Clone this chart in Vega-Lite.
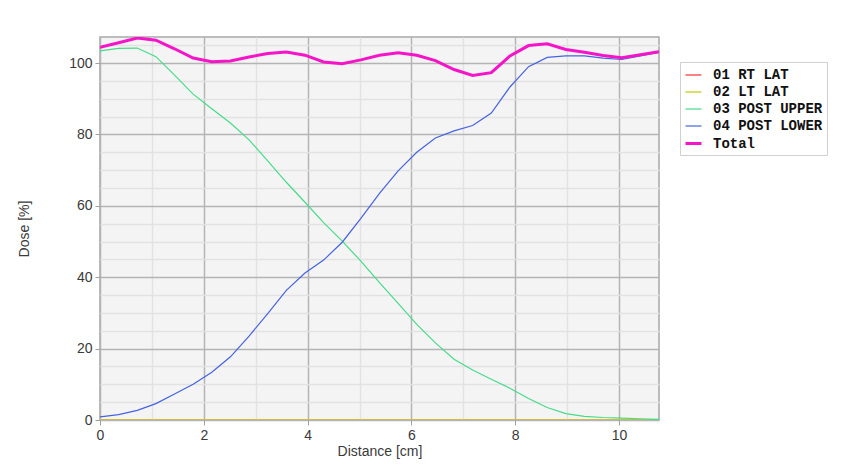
{
  "$schema": "https://vega.github.io/schema/vega-lite/v6.json",
  "width": 559,
  "height": 383,
  "autosize": {"type": "none"},
  "padding": {"left": 100, "top": 37, "right": 204, "bottom": 50},
  "background": "white",
  "config": {
    "view": {"fill": "#f4f4f4", "stroke": "#a8a8a8", "strokeWidth": 1.5},
    "font": "Liberation Sans"
  },
  "datasets": {
    "curves": [
      {"s": "01 RT LAT", "d": 0, "v": 0},
      {"s": "01 RT LAT", "d": 10.77, "v": 0},
      {"s": "02 LT LAT", "d": 0, "v": 0},
      {"s": "02 LT LAT", "d": 10.77, "v": 0},
      {"s": "03 POST UPPER", "d": 0, "v": 103.4},
      {"s": "03 POST UPPER", "d": 0.359, "v": 104.1},
      {"s": "03 POST UPPER", "d": 0.718, "v": 104.2},
      {"s": "03 POST UPPER", "d": 1.077, "v": 101.8},
      {"s": "03 POST UPPER", "d": 1.436, "v": 96.6},
      {"s": "03 POST UPPER", "d": 1.795, "v": 91.3},
      {"s": "03 POST UPPER", "d": 2.154, "v": 87.2},
      {"s": "03 POST UPPER", "d": 2.513, "v": 83.2},
      {"s": "03 POST UPPER", "d": 2.872, "v": 78.5},
      {"s": "03 POST UPPER", "d": 3.231, "v": 72.6},
      {"s": "03 POST UPPER", "d": 3.59, "v": 66.6},
      {"s": "03 POST UPPER", "d": 3.949, "v": 61.0},
      {"s": "03 POST UPPER", "d": 4.308, "v": 55.3},
      {"s": "03 POST UPPER", "d": 4.667, "v": 50.1},
      {"s": "03 POST UPPER", "d": 5.026, "v": 44.5},
      {"s": "03 POST UPPER", "d": 5.385, "v": 38.5},
      {"s": "03 POST UPPER", "d": 5.744, "v": 32.7},
      {"s": "03 POST UPPER", "d": 6.103, "v": 26.8},
      {"s": "03 POST UPPER", "d": 6.462, "v": 21.6},
      {"s": "03 POST UPPER", "d": 6.821, "v": 17.0},
      {"s": "03 POST UPPER", "d": 7.18, "v": 14.0},
      {"s": "03 POST UPPER", "d": 7.539, "v": 11.4},
      {"s": "03 POST UPPER", "d": 7.898, "v": 8.9},
      {"s": "03 POST UPPER", "d": 8.257, "v": 6.0},
      {"s": "03 POST UPPER", "d": 8.616, "v": 3.5},
      {"s": "03 POST UPPER", "d": 8.975, "v": 1.8},
      {"s": "03 POST UPPER", "d": 9.334, "v": 1.0},
      {"s": "03 POST UPPER", "d": 9.693, "v": 0.7},
      {"s": "03 POST UPPER", "d": 10.052, "v": 0.55},
      {"s": "03 POST UPPER", "d": 10.411, "v": 0.35},
      {"s": "03 POST UPPER", "d": 10.77, "v": 0.15},
      {"s": "04 POST LOWER", "d": 0, "v": 0.9},
      {"s": "04 POST LOWER", "d": 0.359, "v": 1.5},
      {"s": "04 POST LOWER", "d": 0.718, "v": 2.7},
      {"s": "04 POST LOWER", "d": 1.077, "v": 4.6},
      {"s": "04 POST LOWER", "d": 1.436, "v": 7.3},
      {"s": "04 POST LOWER", "d": 1.795, "v": 10.0},
      {"s": "04 POST LOWER", "d": 2.154, "v": 13.4},
      {"s": "04 POST LOWER", "d": 2.513, "v": 17.7},
      {"s": "04 POST LOWER", "d": 2.872, "v": 23.5},
      {"s": "04 POST LOWER", "d": 3.231, "v": 29.8},
      {"s": "04 POST LOWER", "d": 3.59, "v": 36.3},
      {"s": "04 POST LOWER", "d": 3.949, "v": 41.2},
      {"s": "04 POST LOWER", "d": 4.308, "v": 44.8},
      {"s": "04 POST LOWER", "d": 4.667, "v": 49.8},
      {"s": "04 POST LOWER", "d": 5.026, "v": 56.5},
      {"s": "04 POST LOWER", "d": 5.385, "v": 63.5},
      {"s": "04 POST LOWER", "d": 5.744, "v": 69.8},
      {"s": "04 POST LOWER", "d": 6.103, "v": 75.0},
      {"s": "04 POST LOWER", "d": 6.462, "v": 79.0},
      {"s": "04 POST LOWER", "d": 6.821, "v": 81.0},
      {"s": "04 POST LOWER", "d": 7.18, "v": 82.5},
      {"s": "04 POST LOWER", "d": 7.539, "v": 86.0},
      {"s": "04 POST LOWER", "d": 7.898, "v": 93.3},
      {"s": "04 POST LOWER", "d": 8.257, "v": 99.0},
      {"s": "04 POST LOWER", "d": 8.616, "v": 101.6},
      {"s": "04 POST LOWER", "d": 8.975, "v": 102.0},
      {"s": "04 POST LOWER", "d": 9.334, "v": 102.0},
      {"s": "04 POST LOWER", "d": 9.693, "v": 101.4},
      {"s": "04 POST LOWER", "d": 10.052, "v": 101.0},
      {"s": "04 POST LOWER", "d": 10.411, "v": 102.0},
      {"s": "04 POST LOWER", "d": 10.77, "v": 103.0},
      {"s": "Total", "d": 0, "v": 104.4},
      {"s": "Total", "d": 0.359, "v": 105.7},
      {"s": "Total", "d": 0.718, "v": 107.0},
      {"s": "Total", "d": 1.077, "v": 106.4},
      {"s": "Total", "d": 1.436, "v": 104.0},
      {"s": "Total", "d": 1.795, "v": 101.4},
      {"s": "Total", "d": 2.154, "v": 100.4},
      {"s": "Total", "d": 2.513, "v": 100.6},
      {"s": "Total", "d": 2.872, "v": 101.7},
      {"s": "Total", "d": 3.231, "v": 102.7},
      {"s": "Total", "d": 3.59, "v": 103.1},
      {"s": "Total", "d": 3.949, "v": 102.2},
      {"s": "Total", "d": 4.308, "v": 100.3},
      {"s": "Total", "d": 4.667, "v": 99.8},
      {"s": "Total", "d": 5.026, "v": 100.9},
      {"s": "Total", "d": 5.385, "v": 102.2},
      {"s": "Total", "d": 5.744, "v": 102.9},
      {"s": "Total", "d": 6.103, "v": 102.2},
      {"s": "Total", "d": 6.462, "v": 100.7},
      {"s": "Total", "d": 6.821, "v": 98.2},
      {"s": "Total", "d": 7.18, "v": 96.5},
      {"s": "Total", "d": 7.539, "v": 97.3},
      {"s": "Total", "d": 7.898, "v": 102.0},
      {"s": "Total", "d": 8.257, "v": 104.9},
      {"s": "Total", "d": 8.616, "v": 105.4},
      {"s": "Total", "d": 8.975, "v": 103.8},
      {"s": "Total", "d": 9.334, "v": 103.0},
      {"s": "Total", "d": 9.693, "v": 102.1},
      {"s": "Total", "d": 10.052, "v": 101.5},
      {"s": "Total", "d": 10.411, "v": 102.3},
      {"s": "Total", "d": 10.77, "v": 103.2}
    ]
  },
  "data": {"name": "curves"},
  "mark": {"type": "line", "clip": true, "interpolate": "linear"},
  "encoding": {
    "x": {
      "field": "d",
      "type": "quantitative",
      "scale": {"domain": [0, 10.77], "nice": false, "zero": false},
      "axis": {
        "title": "Distance [cm]",
        "values": [0, 0.5, 1, 1.5, 2, 2.5, 3, 3.5, 4, 4.5, 5, 5.5, 6, 6.5, 7, 7.5, 8, 8.5, 9, 9.5, 10, 10.5],
        "format": "d",
        "labelExpr": "datum.value % 2 === 0 ? datum.label : ''",
        "grid": true,
        "gridColor": {"condition": {"test": "datum.value % 2 === 0", "value": "#b4b4b4"}, "value": "#e2e2e2"},
        "gridWidth": 1.5,
        "tickOpacity": {"condition": {"test": "datum.value % 2 === 0", "value": 1}, "value": 0},
        "tickColor": "#a0a0a0",
        "tickSize": 5,
        "domain": false,
        "labelFont": "Liberation Sans",
        "labelFontSize": 14,
        "labelColor": "#3a3a3a",
        "labelPadding": 3,
        "labelFlush": false,
        "titleFont": "Liberation Sans",
        "titleFontSize": 14,
        "titleFontWeight": "normal",
        "titleColor": "#3a3a3a",
        "titlePadding": 2
      }
    },
    "y": {
      "field": "v",
      "type": "quantitative",
      "scale": {"domain": [0, 107.3], "nice": false},
      "axis": {
        "title": "Dose [%]",
        "values": [0, 5, 10, 15, 20, 25, 30, 35, 40, 45, 50, 55, 60, 65, 70, 75, 80, 85, 90, 95, 100, 105],
        "format": "d",
        "labelExpr": "datum.value % 20 === 0 ? datum.label : ''",
        "grid": true,
        "gridColor": {"condition": {"test": "datum.value % 20 === 0", "value": "#b4b4b4"}, "value": "#e2e2e2"},
        "gridWidth": 1.5,
        "tickOpacity": {"condition": {"test": "datum.value % 20 === 0", "value": 1}, "value": 0},
        "tickColor": "#a0a0a0",
        "tickSize": 5,
        "domain": false,
        "labelFont": "Liberation Sans",
        "labelFontSize": 14,
        "labelColor": "#3a3a3a",
        "labelPadding": 3,
        "labelFlush": false,
        "titleFont": "Liberation Sans",
        "titleFontSize": 14,
        "titleFontWeight": "normal",
        "titleColor": "#3a3a3a",
        "titlePadding": 37
      }
    },
    "color": {
      "field": "s",
      "type": "nominal",
      "scale": {
        "domain": ["01 RT LAT", "02 LT LAT", "03 POST UPPER", "04 POST LOWER", "Total"],
        "range": ["#ff2a2a", "#ccd438", "#45dc88", "#4463e0", "#f514c8"]
      },
      "legend": {
        "orient": "none",
        "legendX": 580,
        "legendY": 25,
        "title": null,
        "symbolType": "stroke",
        "symbolSize": 256,
        "labelFont": "Liberation Mono",
        "labelFontWeight": "bold",
        "labelFontSize": 14,
        "labelColor": "#111111",
        "labelOffset": 10,
        "rowPadding": 1,
        "padding": 4,
        "strokeColor": "#d0d0d0",
        "fillColor": "white",
        "cornerRadius": 0
      }
    },
    "strokeWidth": {
      "field": "s",
      "type": "nominal",
      "scale": {
        "type": "ordinal",
        "domain": ["01 RT LAT", "02 LT LAT", "03 POST UPPER", "04 POST LOWER", "Total"],
        "range": [1.2, 1.5, 1.2, 1.2, 3]
      },
      "legend": null
    },
    "order": {"field": "d", "type": "quantitative"}
  }
}
